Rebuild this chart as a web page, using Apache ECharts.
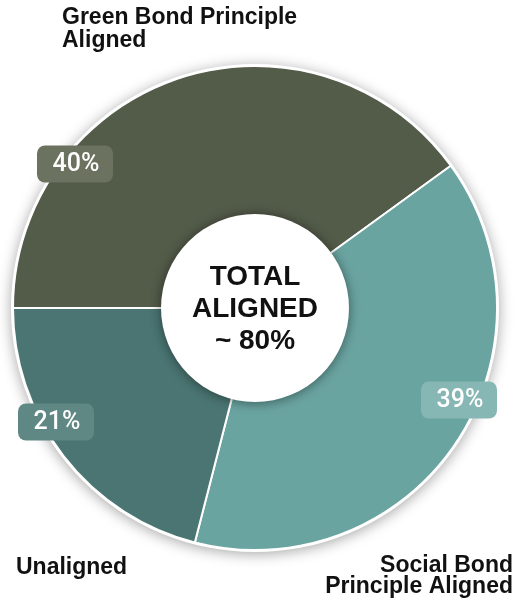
<!DOCTYPE html>
<html>
<head>
<meta charset="utf-8">
<title>Bond principle alignment</title>
<script src="https://cdn.jsdelivr.net/npm/echarts@6/dist/echarts.min.js"></script>
<style>
  html, body { margin: 0; padding: 0; background: #ffffff; }
  #chart { width: 518px; height: 600px; }
</style>
</head>
<body>
<div id="chart"></div>
<script>
// Share of issuance by alignment
const categories = ['Green Bond Principle Aligned', 'Social Bond Principle Aligned', 'Unaligned'];
const shares = [40, 39, 21];
const captions = ['Green Bond Principle\nAligned', 'Social Bond\nPrinciple Aligned', 'Unaligned'];
const centerCaption = 'TOTAL\nALIGNED\n~ 80%';

const sliceColors = ['#535b49', '#6aa4a1', '#4a7572'];
const badgeColors = ['#6b725f', '#87b7b4', '#5f8884'];
const cx = 255, cy = 308, outerR = 242, innerR = 94;

// where each percentage badge sits (centre of the badge) and its size
const badgePos = [[75, 164], [459, 400], [56, 422]];
const badgeW = 76, badgeH = 37;
// where each category caption sits: [x, y, align, lineHeight]
const captionPos = [[62, 6, 'left', 23], [513, 555, 'right', 21], [16, 556, 'left', 23]];

const chart = echarts.init(document.getElementById('chart'), null, { renderer: 'canvas' });

const graphics = [
  {
    type: 'circle', z: 0,
    shape: { cx: cx, cy: cy, r: outerR + 2 },
    style: { fill: '#ffffff', shadowBlur: 14, shadowColor: 'rgba(0,0,0,0.35)', shadowOffsetY: 2 }
  },
  {
    type: 'circle', z: 100,
    shape: { cx: cx, cy: cy, r: innerR },
    style: { fill: '#ffffff', shadowBlur: 12, shadowColor: 'rgba(0,0,0,0.45)', shadowOffsetY: 1 }
  },
  {
    type: 'text', z: 101,
    style: {
      x: cx, y: cy + 1, text: centerCaption,
      fill: '#111111', font: 'bold 28px "Liberation Sans", Arial, sans-serif',
      textAlign: 'center', textVerticalAlign: 'middle', lineHeight: 32
    }
  }
];

// category captions around the pie
captions.forEach(function (c, i) {
  graphics.push({
    type: 'text', z: 101,
    style: {
      x: captionPos[i][0], y: captionPos[i][1], text: c,
      fill: '#111111', font: 'bold 23px "Liberation Sans", Arial, sans-serif',
      textAlign: captionPos[i][2], textVerticalAlign: 'top', lineHeight: captionPos[i][3]
    }
  });
});

// percentage badges, one per slice
shares.forEach(function (v, i) {
  const bx = badgePos[i][0], by = badgePos[i][1];
  graphics.push({
    type: 'rect', z: 50,
    shape: { x: bx - badgeW / 2, y: by - badgeH / 2, width: badgeW, height: badgeH, r: 8 },
    style: { fill: badgeColors[i] }
  });
  graphics.push({
    type: 'text', z: 51,
    style: {
      x: bx + 1, y: by + 1, text: v + '%',
      fill: '#ffffff', fontFamily: 'Roboto, sans-serif', fontWeight: 500, fontSize: 25,
      textAlign: 'center', textVerticalAlign: 'middle'
    }
  });
});

chart.setOption({
  animation: false,
  graphic: graphics,
  series: [{
    type: 'pie',
    z: 2,
    center: [cx, cy],
    radius: [0, outerR],
    startAngle: 180,
    clockwise: true,
    silent: true,
    itemStyle: { borderColor: '#ffffff', borderWidth: 2 },
    label: { show: false },
    labelLine: { show: false },
    data: categories.map(function (name, i) {
      return { name: name, value: shares[i], itemStyle: { color: sliceColors[i] } };
    })
  }]
});
</script>
</body>
</html>
